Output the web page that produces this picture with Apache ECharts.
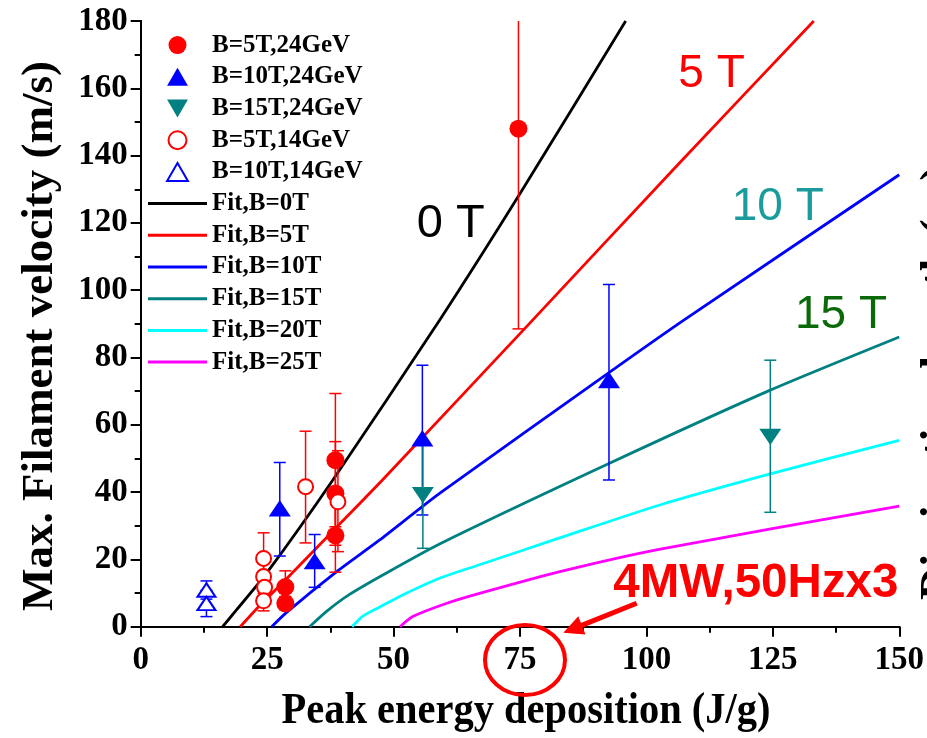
<!DOCTYPE html>
<html>
<head>
<meta charset="utf-8">
<script src="https://cdn.jsdelivr.net/npm/echarts@6/dist/echarts.min.js"></script>
<style>html,body{margin:0;padding:0;background:#fff}#c{width:927px;height:738px}</style>
</head>
<body>
<div id="c"></div>
<script>
// ---- data: [energy, velocity, errLow, errHigh]
const b5_24 = [[74.7,148,88.5,207],[38.5,49.5,29.7,69.3],[38.5,39.6,24.2,55],[38.5,27.1,16.2,38],[28.6,11.8,7.2,16.6],[28.6,6.9,5,9]];
const b10_24 = [[27.5,35.2,21,48.8],[34.4,19.5,11.7,27.4],[55.7,56,33.2,77.7],[92.6,73.3,43.6,101.7]];
const b15_24 = [[55.8,39.1,23.3,54.5],[124.5,56.4,34,79.2]];
const b5_14 = [[32.6,41.6,24.9,58.1],[39.0,37.1,22.3,52.3],[24.3,20.3,12.7,27.9],[24.3,14.9,9.9,19.9],[24.5,11.7,7.7,15.7],[24.3,7.7,4.7,10.7]];
const b10_14 = [[13.0,10.9,8.2,13.6],[13.0,6.9,3.0,10.8]];
// ---- fit curves: [energy, velocity]
const fit0 = [[16.2,0],[18.9,4.9],[24.9,15.9],[38.0,43.6],[59.1,91.1],[75.2,129.2],[95.9,180]];
const fit5 = [[19.7,0],[23.5,6.2],[28.8,14.2],[38.5,29.2],[47.8,43.6],[77.5,91.1],[106.4,137.6],[133.1,180]];
const fit10 = [[25.9,0],[28.8,4.2],[38.7,16.3],[47.2,25.7],[59.1,39.6],[92.6,75.5],[107.4,91.1],[150,134.3]];
const fit15 = [[33.4,0],[36.7,4.5],[41.3,9.6],[48.5,15.9],[59.1,24.6],[92.6,48.5],[124.5,70.3],[150,86.1]];
const fit20 = [[41.8,0],[44.0,3.2],[47.2,5.8],[51.2,9.0],[59.1,14.4],[67.0,18.4],[82.7,26.3],[102.5,36.1],[124.5,45.4],[150,55.4]];
const fit25 = [[51.3,0],[53.8,3.0],[60.4,6.9],[67.0,9.9],[82.7,16.3],[102.5,23.0],[150,35.8]];
// ---- axes
const xTicks = [0,25,50,75,100,125,150];
const yTicks = [0,20,40,60,80,100,120,140,160,180];
const xMax = 150, yMax = 180;

const SERIF = "'Liberation Serif','Times New Roman',serif";
const SANS = "'Liberation Sans',Arial,sans-serif";
const TRI_UP = 'path://M11,0L22,19L0,19Z';
const TRI_DOWN = 'path://M0,0L22,0L11,19Z';
const LINE_ICON = 'path://M0,0H59V3H0Z';

function errSeries(data, color) {
  return {
    type: 'custom', silent: true, z: 3,
    data: data.map(d => [d[0], d[2], d[3]]),
    encode: { x: 0, y: [1, 2] },
    renderItem: function (params, api) {
      const x = api.value(0), lo = api.value(1), hi = api.value(2);
      const top = Math.min(hi, yMax);
      const p1 = api.coord([x, lo]), p2 = api.coord([x, top]);
      const hw = 6;
      const st = { stroke: color, lineWidth: 1.5 };
      const ch = [
        { type: 'line', shape: { x1: p1[0], y1: p1[1], x2: p2[0], y2: p2[1] }, style: st },
        { type: 'line', shape: { x1: p1[0] - hw, y1: p1[1], x2: p1[0] + hw, y2: p1[1] }, style: st }
      ];
      if (hi <= yMax) ch.push({ type: 'line', shape: { x1: p2[0] - hw, y1: p2[1], x2: p2[0] + hw, y2: p2[1] }, style: st });
      return { type: 'group', children: ch };
    }
  };
}
function pts(data) { return data.map(d => [d[0], d[1]]); }
function fitLine(name, data, color) {
  return { name, type: 'line', data, smooth: 0.22, symbol: 'none', showSymbol: false,
           lineStyle: { color, width: 2.8 }, itemStyle: { color }, z: 2, silent: true };
}

const chart = echarts.init(document.getElementById('c'), null, { renderer: 'canvas' });
const axisCommon = { type: 'value', splitLine: { show: false } };
chart.setOption({
  animation: false,
  backgroundColor: '#fff',
  grid: { left: 140.7, right: 26.3, top: 21, bottom: 111.3 },
  xAxis: [
    Object.assign({}, axisCommon, {
      min: 0, max: xMax, interval: 25,
      axisLine: { lineStyle: { color: '#000', width: 2 } },
      axisTick: { inside: false, length: 10, lineStyle: { color: '#000', width: 2 } },
      minorTick: { show: true, splitNumber: 2, length: 6, lineStyle: { color: '#000', width: 2 } },
      axisLabel: { color: '#000', fontFamily: SERIF, fontWeight: 'bold', fontSize: 33, margin: 17,
                   formatter: v => xTicks.includes(v) ? String(v) : '' }
    }),
    Object.assign({}, axisCommon, {
      position: 'top', min: 0, max: xMax, interval: 25,
      axisLine: { lineStyle: { color: '#000', width: 2 } },
      axisTick: { inside: true, length: 5, lineStyle: { color: '#000', width: 1.5 } },
      minorTick: { show: true, splitNumber: 2, length: 3, lineStyle: { color: '#000', width: 1.5 } },
      axisLabel: { show: false }
    })
  ],
  yAxis: [
    Object.assign({}, axisCommon, {
      min: 0, max: yMax, interval: 20,
      axisLine: { lineStyle: { color: '#000', width: 2 } },
      axisTick: { inside: false, length: 10, lineStyle: { color: '#000', width: 2 } },
      minorTick: { show: true, splitNumber: 2, length: 6, lineStyle: { color: '#000', width: 2 } },
      axisLabel: { color: '#000', fontFamily: SERIF, fontWeight: 'bold', fontSize: 33, margin: 13,
                   formatter: v => yTicks.includes(v) ? String(v) : '' }
    }),
    Object.assign({}, axisCommon, {
      position: 'right', min: 0, max: yMax, interval: 20,
      axisLine: { lineStyle: { color: '#000', width: 2 } },
      axisTick: { inside: true, length: 5, lineStyle: { color: '#000', width: 1.5 } },
      minorTick: { show: true, splitNumber: 2, length: 5, lineStyle: { color: '#000', width: 1.5 } },
      axisLabel: { show: false }
    })
  ],
  legend: {
    orient: 'vertical', left: 148, top: 32.6, padding: 0,
    itemWidth: 59, itemHeight: 18, itemGap: 6.7, symbolKeepAspect: true,
    textStyle: { fontFamily: SERIF, fontWeight: 'bold', fontSize: 25, lineHeight: 24, color: '#000' },
    data: [
      { name: 'B=5T,24GeV' }, { name: 'B=10T,24GeV' }, { name: 'B=15T,24GeV' },
      { name: 'B=5T,14GeV' }, { name: 'B=10T,14GeV' },
      { name: 'Fit,B=0T', icon: LINE_ICON }, { name: 'Fit,B=5T', icon: LINE_ICON },
      { name: 'Fit,B=10T', icon: LINE_ICON }, { name: 'Fit,B=15T', icon: LINE_ICON },
      { name: 'Fit,B=20T', icon: LINE_ICON }, { name: 'Fit,B=25T', icon: LINE_ICON }
    ]
  },
  series: [
    fitLine('Fit,B=0T', fit0, '#000000'),
    fitLine('Fit,B=5T', fit5, '#ff0000'),
    fitLine('Fit,B=10T', fit10, '#0000ff'),
    fitLine('Fit,B=15T', fit15, '#008080'),
    fitLine('Fit,B=20T', fit20, '#00ffff'),
    fitLine('Fit,B=25T', fit25, '#ff00ff'),
    errSeries(b5_24, '#ff0000'),
    errSeries(b10_24, '#0000ff'),
    errSeries(b15_24, '#008080'),
    errSeries(b5_14, '#ff0000'),
    errSeries(b10_14, '#0000ff'),
    { name: 'B=5T,24GeV', type: 'scatter', data: pts(b5_24), symbol: 'circle', symbolSize: 18, z: 5,
      itemStyle: { color: '#ff0000', opacity: 1 } },
    { name: 'B=10T,24GeV', type: 'scatter', data: pts(b10_24), symbol: TRI_UP, symbolKeepAspect: true, symbolSize: [22, 19], z: 5,
      itemStyle: { color: '#0000ff', opacity: 1 } },
    { name: 'B=15T,24GeV', type: 'scatter', data: pts(b15_24), symbol: TRI_DOWN, symbolKeepAspect: true, symbolSize: [22, 19], z: 5,
      itemStyle: { color: '#008080', opacity: 1 } },
    { name: 'B=5T,14GeV', type: 'scatter', data: pts(b5_14), symbol: 'circle', symbolSize: 15, z: 5,
      itemStyle: { color: '#ffffff', borderColor: '#ff0000', borderWidth: 2, opacity: 1 } },
    { name: 'B=10T,14GeV', type: 'scatter', data: pts(b10_14), symbol: TRI_UP, symbolKeepAspect: true, symbolSize: [18, 15.5], z: 5,
      itemStyle: { color: '#ffffff', borderColor: '#0000ff', borderWidth: 2, opacity: 1 } }
  ],
  graphic: [
    { type: 'text', x: 40, y: 336, rotation: Math.PI / 2, z: 10,
      style: { text: 'Max. Filament velocity (m/s)', fontFamily: SERIF, fontWeight: 'bold', fontSize: 45,
               fill: '#000', align: 'center', verticalAlign: 'middle' } },
    { type: 'text', x: 526, y: 712, scaleX: 0.92, z: 10,
      style: { text: 'Peak energy deposition (J/g)', fontFamily: SERIF, fontWeight: 'bold', fontSize: 44,
               fill: '#000', align: 'center', verticalAlign: 'middle' } },
    { type: 'text', x: 917, y: 600, rotation: Math.PI / 2, z: 10,
      style: { text: 'Dissipation length (m)', fontFamily: SERIF, fontWeight: 'bold', fontSize: 46,
               fill: '#000', align: 'left', verticalAlign: 'top' } },
    { type: 'text', x: 416.7, y: 224.2, z: 10,
      style: { text: '0 T', fontFamily: SANS, fontSize: 47, fill: '#000', align: 'left', verticalAlign: 'middle' } },
    { type: 'text', x: 678.3, y: 74.2, z: 10,
      style: { text: '5 T', fontFamily: SANS, fontSize: 46, fill: '#ff0000', align: 'left', verticalAlign: 'middle' } },
    { type: 'text', x: 731.7, y: 207.5, z: 10,
      style: { text: '10 T', fontFamily: SANS, fontSize: 46, fill: '#1a9c9c', align: 'left', verticalAlign: 'middle' } },
    { type: 'text', x: 795, y: 315.8, z: 10,
      style: { text: '15 T', fontFamily: SANS, fontSize: 46, fill: '#0a6a0a', align: 'left', verticalAlign: 'middle' } },
    { type: 'text', x: 613.3, y: 584.2, z: 10,
      style: { text: '4MW,50Hzx3', fontFamily: SANS, fontWeight: 'bold', fontSize: 47.5, fill: '#ff0000', align: 'left', verticalAlign: 'middle' } },
    { type: 'ellipse', z: 10, shape: { cx: 525, cy: 660, rx: 40, ry: 35 },
      style: { fill: 'none', stroke: '#ff0000', lineWidth: 4 } },
    { type: 'line', z: 10, shape: { x1: 636.7, y1: 603.3, x2: 581, y2: 625.6 },
      style: { stroke: '#ff0000', lineWidth: 5 } },
    { type: 'polygon', z: 10, shape: { points: [[563.3, 632.7], [585.5, 634.5], [578.3, 616.2]] },
      style: { fill: '#ff0000' } }
  ]
});
</script>
</body>
</html>
